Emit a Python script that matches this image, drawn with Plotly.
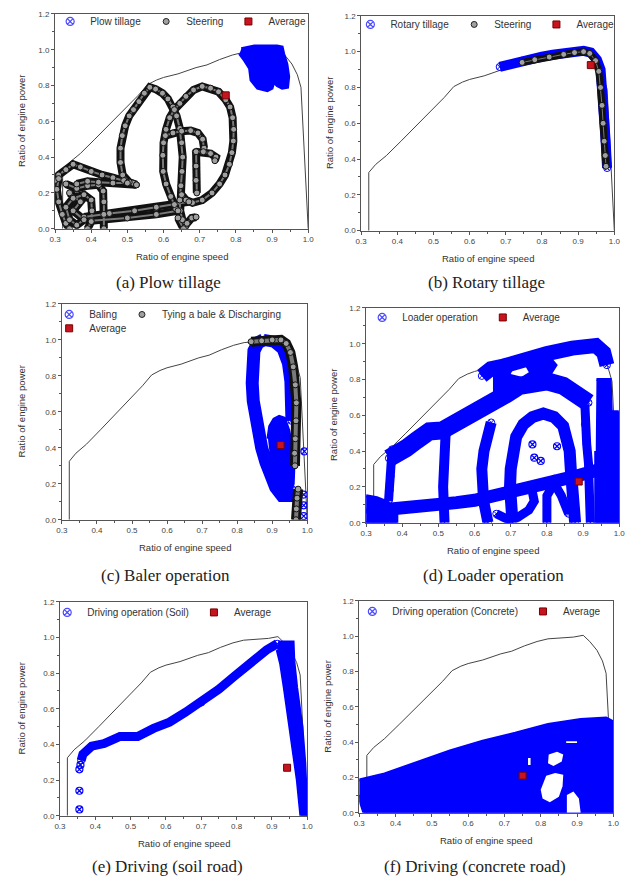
import plotly.graph_objects as go

FIG_W, FIG_H = 637, 888

# ---------------- axis ticks / texts ----------------
X_TICKS = [0.3, 0.4, 0.5, 0.6, 0.7, 0.8, 0.9, 1.0]
X_TICK_TEXT = ['0.3', '0.4', '0.5', '0.6', '0.7', '0.8', '0.9', '1.0']
X_MINOR = [0.35, 0.45, 0.55, 0.65, 0.75, 0.85, 0.95]
Y_TICKS = [0.0, 0.2, 0.4, 0.6, 0.8, 1.0, 1.2]
Y_TICK_TEXT = ['0.0', '0.2', '0.4', '0.6', '0.8', '1.0', '1.2']
Y_MINOR = [0.1, 0.3, 0.5, 0.7, 0.9, 1.1]
X_TITLE = 'Ratio of engine speed'
Y_TITLE = 'Ratio of engine power'
CAPTIONS = ['(a) Plow tillage', '(b) Rotary tillage', '(c) Baler operation',
            '(d) Loader operation', '(e) Driving (soil road)', '(f) Driving (concrete road)']

# ---------------- engine performance envelope (same in every panel) ----------------
ENV_X = [0.321, 0.321, 0.34, 0.37, 0.41, 0.45, 0.50, 0.53, 0.556, 0.58, 0.60, 0.64, 0.69, 0.72,
         0.755, 0.79, 0.82, 0.86, 0.89, 0.917, 0.935, 0.955, 0.97, 0.98, 0.985, 0.99, 1.0]
ENV_Y = [0.0, 0.325, 0.37, 0.42, 0.50, 0.58, 0.685, 0.745, 0.805, 0.83, 0.845, 0.865, 0.90, 0.915,
         0.945, 0.97, 0.985, 0.993, 0.995, 1.005, 0.97, 0.92, 0.86, 0.79, 0.60, 0.40, 0.0]

# ---------------- (a) plow tillage ----------------
A_PLOW_X = [0.815, 0.851, 0.914, 0.928, 0.932, 0.941, 0.946, 0.943, 0.928, 0.914, 0.905, 0.90,
            0.887, 0.86, 0.842, 0.838, 0.824, 0.81]
A_PLOW_Y = [1.005, 1.02, 1.02, 1.015, 0.978, 0.92, 0.85, 0.79, 0.785, 0.80, 0.82, 0.785,
            0.771, 0.785, 0.83, 0.895, 0.94, 0.978]
A_STEER_X = [
    [0.30, 0.31, 0.33, 0.35, 0.37, 0.40, 0.43, 0.46, 0.49, 0.515, 0.525, 0.505, 0.487, 0.481, 0.481,
     0.486, 0.494, 0.505, 0.517, 0.532, 0.547, 0.562, 0.578, 0.597, 0.612, 0.626, 0.636, 0.645, 0.65,
     0.653, 0.651, 0.648, 0.645, 0.646, 0.652, 0.66],
    [0.634, 0.62, 0.607, 0.599, 0.598, 0.600, 0.607, 0.617, 0.63, 0.645, 0.662, 0.683, 0.707, 0.73,
     0.752, 0.772, 0.784, 0.791, 0.794, 0.793, 0.789, 0.782, 0.77, 0.755, 0.734, 0.707, 0.68, 0.662, 0.65],
    [0.605, 0.626, 0.65, 0.675, 0.695, 0.708, 0.712],
    [0.688, 0.71, 0.73, 0.745, 0.742],
    [0.69, 0.69, 0.69, 0.692],
    [0.38, 0.45, 0.52, 0.58, 0.63, 0.67],
    [0.40, 0.50, 0.58, 0.64],
    [0.64, 0.655, 0.665, 0.678, 0.69],
    [0.31, 0.305, 0.31, 0.32, 0.33, 0.34],
    [0.33, 0.36, 0.39, 0.42, 0.433, 0.435, 0.435, 0.435],
    [0.34, 0.37, 0.35, 0.38, 0.36, 0.34, 0.33, 0.35, 0.38, 0.40, 0.402, 0.40, 0.39],
    [0.36, 0.39, 0.42, 0.46, 0.50, 0.525],
]
A_STEER_Y = [
    [0.27, 0.30, 0.33, 0.36, 0.345, 0.32, 0.30, 0.285, 0.27, 0.255, 0.245, 0.26, 0.30, 0.37, 0.45,
     0.52, 0.575, 0.63, 0.665, 0.71, 0.757, 0.79, 0.78, 0.757, 0.725, 0.68, 0.63, 0.56, 0.48,
     0.40, 0.32, 0.24, 0.16, 0.10, 0.05, 0.01],
    [0.11, 0.18, 0.25, 0.32, 0.41, 0.48, 0.555, 0.62, 0.665, 0.70, 0.739, 0.775, 0.795, 0.785,
     0.765, 0.72, 0.68, 0.62, 0.555, 0.49, 0.425, 0.36, 0.30, 0.25, 0.20, 0.16, 0.145, 0.16, 0.19],
    [0.52, 0.535, 0.545, 0.548, 0.535, 0.50, 0.45],
    [0.43, 0.43, 0.42, 0.40, 0.38],
    [0.43, 0.35, 0.27, 0.20],
    [0.065, 0.085, 0.10, 0.12, 0.135, 0.15],
    [0.045, 0.06, 0.08, 0.10],
    [0.06, 0.0, 0.03, 0.06, 0.065],
    [0.28, 0.22, 0.15, 0.08, 0.03, 0.0],
    [0.25, 0.225, 0.24, 0.245, 0.21, 0.15, 0.08, 0.0],
    [0.20, 0.15, 0.10, 0.05, 0.02, 0.05, 0.12, 0.17, 0.19, 0.16, 0.10, 0.04, 0.0],
    [0.25, 0.265, 0.26, 0.255, 0.255, 0.245],
]
A_AVG_X, A_AVG_Y = [0.772], [0.745]

# ---------------- (b) rotary tillage ----------------
B_ROT_X = [0.683, 0.70, 0.72, 0.745, 0.77, 0.80, 0.83, 0.86, 0.89, 0.915, 0.935, 0.952, 0.962,
           0.967, 0.97, 0.973, 0.976, 0.978, 0.98]
B_ROT_Y = [0.915, 0.925, 0.935, 0.95, 0.96, 0.972, 0.983, 0.993, 1.0, 1.005, 0.995, 0.955, 0.90,
           0.80, 0.70, 0.60, 0.50, 0.42, 0.35]
B_STEER_X = [[0.745, 0.78, 0.82, 0.86, 0.89, 0.915, 0.932, 0.948, 0.957, 0.962, 0.966, 0.969,
              0.972, 0.975, 0.977]]
B_STEER_Y = [[0.94, 0.955, 0.97, 0.985, 0.995, 1.0, 0.99, 0.95, 0.89, 0.80, 0.70, 0.60, 0.50,
              0.42, 0.36]]
B_AVG_X, B_AVG_Y = [0.935], [0.925]

# ---------------- (c) baler operation ----------------
C_BALE_X = [0.875, 0.86, 0.848, 0.843, 0.843, 0.846, 0.852, 0.86, 0.87, 0.882, 0.895, 0.91,
            0.928, 0.948, 0.957]
C_BALE_Y = [1.0, 0.985, 0.94, 0.86, 0.76, 0.66, 0.57, 0.48, 0.40, 0.32, 0.25, 0.18, 0.135,
            0.135, 0.17]
C_BALE2_X = [0.875, 0.905, 0.93, 0.945, 0.952, 0.955, 0.955]
C_BALE2_Y = [1.0, 0.99, 0.95, 0.87, 0.77, 0.66, 0.55]
C_BLOB_X = [0.888, 0.893, 0.905, 0.92, 0.935, 0.947, 0.957, 0.962, 0.96, 0.95, 0.93, 0.913,
            0.90, 0.892]
C_BLOB_Y = [0.45, 0.52, 0.56, 0.575, 0.565, 0.50, 0.40, 0.30, 0.20, 0.145, 0.14, 0.20, 0.30, 0.38]
C_SPECK_X = [0.99, 0.99, 0.99, 0.992]
C_SPECK_Y = [0.02, 0.08, 0.14, 0.38]
C_TIE_X = [[0.84, 0.87, 0.90, 0.925, 0.94, 0.952, 0.96, 0.966, 0.969, 0.968, 0.966, 0.964, 0.965],
           [0.968, 0.969, 0.971, 0.974]]
C_TIE_Y = [[0.99, 0.995, 1.0, 1.0, 0.98, 0.93, 0.85, 0.75, 0.65, 0.55, 0.45, 0.37, 0.30],
           [0.0, 0.06, 0.12, 0.17]]
C_AVG_X, C_AVG_Y = [0.924], [0.415]

# ---------------- (d) loader operation ----------------
D_DIAG_X = [0.31, 0.36, 0.40, 0.45, 0.50, 0.55, 0.60, 0.66, 0.72, 0.80, 0.88, 0.95, 1.0]
D_DIAG_Y = [0.065, 0.072, 0.08, 0.09, 0.10, 0.112, 0.125, 0.15, 0.175, 0.215, 0.26, 0.30, 0.32]
D_BLOB_X = [0.30, 0.33, 0.355, 0.375, 0.385, 0.385, 0.30]
D_BLOB_Y = [0.15, 0.14, 0.12, 0.09, 0.05, 0.0, 0.0]
D_RIDGE_X = [0.363, 0.38, 0.41, 0.44, 0.475, 0.51, 0.55, 0.585, 0.62, 0.655, 0.69, 0.725, 0.76,
             0.80, 0.845, 0.885, 0.915]
D_RIDGE_Y = [0.36, 0.39, 0.415, 0.46, 0.51, 0.515, 0.555, 0.59, 0.625, 0.665, 0.72, 0.765, 0.785,
             0.79, 0.765, 0.725, 0.67]
D_TOP_X = [0.62, 0.645, 0.68, 0.73, 0.80, 0.87, 0.935, 0.957, 0.966]
D_TOP_Y = [0.82, 0.86, 0.875, 0.91, 0.945, 0.975, 0.99, 0.95, 0.88]
D_UPPER_X = [0.655, 0.655, 0.72, 0.80, 0.825, 0.80, 0.75, 0.70]
D_UPPER_Y = [0.68, 0.86, 0.90, 0.94, 0.88, 0.80, 0.77, 0.72]
D_HOLE_X = [0.70, 0.73, 0.75, 0.74, 0.71]
D_HOLE_Y = [0.83, 0.815, 0.84, 0.875, 0.87]
D_ARCH_X = [0.705, 0.70, 0.698, 0.70, 0.705, 0.715, 0.735, 0.76, 0.79, 0.82, 0.845, 0.858, 0.863,
            0.866, 0.87, 0.875, 0.878]
D_ARCH_Y = [0.0, 0.1, 0.2, 0.3, 0.4, 0.48, 0.55, 0.59, 0.61, 0.59, 0.54, 0.47, 0.40, 0.30, 0.20,
            0.10, 0.0]
D_BANDE_X = [0.646, 0.635, 0.626, 0.62, 0.62, 0.625, 0.632, 0.637]
D_BANDE_Y = [0.56, 0.48, 0.40, 0.30, 0.20, 0.12, 0.05, 0.0]
D_BANDF_X = [0.52, 0.516, 0.513, 0.513, 0.515, 0.517]
D_BANDF_Y = [0.50, 0.40, 0.30, 0.20, 0.10, 0.0]
D_BANDG_X = [0.372, 0.37, 0.368, 0.365, 0.362]
D_BANDG_Y = [0.41, 0.34, 0.26, 0.18, 0.12]
D_BANDH_X = [0.905, 0.905, 0.91, 0.915, 0.918, 0.92]
D_BANDH_Y = [0.66, 0.55, 0.44, 0.33, 0.15, 0.0]
D_LOOP_X = [0.66, 0.69, 0.72, 0.75, 0.765, 0.76]
D_LOOP_Y = [0.05, 0.02, 0.03, 0.07, 0.12, 0.17]
D_LOOP2_X = [0.80, 0.80, 0.82, 0.84, 0.86]
D_LOOP2_Y = [0.0, 0.15, 0.22, 0.15, 0.05]
D_RIGHT_X = [0.937, 0.975, 0.978, 0.995, 1.0, 1.0, 0.935, 0.935]
D_RIGHT_Y = [0.80, 0.80, 0.62, 0.62, 0.55, 0.0, 0.0, 0.40]
D_DOTS_X = [0.76, 0.765, 0.783, 0.828]
D_DOTS_Y = [0.437, 0.363, 0.345, 0.427]
D_AVG_X, D_AVG_Y = [0.888], [0.23]

# ---------------- (e) driving, soil road ----------------
E_BAND_X = [0.36, 0.365, 0.39, 0.425, 0.47, 0.52, 0.565, 0.61, 0.655, 0.70, 0.75, 0.795, 0.84,
            0.885, 0.915]
E_BAND_Y = [0.31, 0.345, 0.39, 0.405, 0.445, 0.445, 0.49, 0.525, 0.58, 0.635, 0.71, 0.785, 0.86,
            0.93, 0.965]
E_DOTS_X = [0.355, 0.355, 0.355, 0.358]
E_DOTS_Y = [0.035, 0.14, 0.26, 0.285]
E_RIGHT_X = [0.918, 0.96, 0.962, 0.97, 0.985, 0.993, 1.0, 0.982, 0.972, 0.958, 0.945, 0.935,
             0.925, 0.915]
E_RIGHT_Y = [0.975, 0.975, 0.87, 0.72, 0.50, 0.30, 0.0, 0.0, 0.20, 0.40, 0.60, 0.72, 0.85, 0.93]
E_AVG_X, E_AVG_Y = [0.943], [0.269]

# ---------------- (f) driving, concrete road ----------------
F_AREA_X = [0.30, 0.37, 0.46, 0.55, 0.64, 0.73, 0.82, 0.91, 0.98, 0.995, 1.0, 1.0, 0.313, 0.305, 0.30]
F_AREA_Y = [0.185, 0.22, 0.285, 0.35, 0.405, 0.45, 0.50, 0.528, 0.537, 0.52, 0.40, 0.0, 0.0, 0.05, 0.10]
F_HOLES_X = [[0.822, 0.845, 0.862, 0.858, 0.835, 0.82],
             [0.815, 0.84, 0.862, 0.86, 0.85, 0.825, 0.805, 0.80],
             [0.765, 0.772, 0.772, 0.765],
             [0.872, 0.89, 0.905, 0.91, 0.872],
             [0.87, 0.90, 0.90, 0.87]]
F_HOLES_Y = [[0.33, 0.345, 0.33, 0.29, 0.265, 0.28],
             [0.21, 0.225, 0.215, 0.15, 0.09, 0.06, 0.08, 0.13],
             [0.31, 0.31, 0.27, 0.27],
             [0.10, 0.12, 0.08, 0.0, 0.0],
             [0.405, 0.405, 0.395, 0.395]]
F_AVG_X, F_AVG_Y = [0.75], [0.21]

# ---------------- legends ----------------
LEG_A = ['Plow tillage', 'Steering', 'Average']
LEG_B = ['Rotary tillage', 'Steering', 'Average']
LEG_C = ['Baling', 'Tying a bale & Discharging', 'Average']
LEG_D = ['Loader operation', 'Average']
LEG_E = ['Driving operation (Soil)', 'Average']
LEG_F = ['Driving operation (Concrete)', 'Average']

# ---------------- layout geometry (pixels: left, right, top, bottom) ----------------
BOX = {1: (50, 308, 10, 227), 2: (362, 620, 12, 229), 3: (57, 307, 303, 521),
       4: (367, 625, 307, 524), 5: (55, 307, 604, 820), 6: (360, 619, 603, 817)}
YTITLE_X = {1: 16, 2: 329, 3: 16, 4: 334, 5: 16, 6: 328}
CAP_POS = {1: (166, 281), 2: (490, 281), 3: (163, 577), 4: (497, 577), 5: (165, 871), 6: (478, 871)}

BLUE = '#0000ff'
LEG_BLUE = '#4a4aff'
GRAY = '#a0a0a0'
RED = '#c8141e'


def px_x(p):
    return p / FIG_W


def px_y(p):
    return 1 - p / FIG_H


def ax(n):
    return ('x', 'y') if n == 1 else ('x%d' % n, 'y%d' % n)


fig = go.Figure()


def add(n, **kw):
    xa, ya = ax(n)
    kw.setdefault('showlegend', False)
    kw.setdefault('hoverinfo', 'skip')
    fig.add_trace(go.Scatter(xaxis=xa, yaxis=ya, **kw))


def envelope(n):
    add(n, x=ENV_X, y=ENV_Y, mode='lines', line=dict(color='#444', width=1))


def blue_path(n, xs, ys, w):
    add(n, x=xs, y=ys, mode='lines+markers', line=dict(color=BLUE, width=w),
        marker=dict(symbol='circle-x-open', size=7, color=BLUE, line=dict(width=1)))


def blue_area(n, xs, ys):
    add(n, x=xs, y=ys, mode='lines', fill='toself', fillcolor=BLUE,
        line=dict(color=BLUE, width=3))


def blue_dots(n, xs, ys):
    add(n, x=xs, y=ys, mode='markers',
        marker=dict(symbol='circle-x-open', size=7, color=BLUE, line=dict(width=1.2)))


def white_area(n, xs, ys):
    add(n, x=xs, y=ys, mode='lines', fill='toself', fillcolor='white', line=dict(width=0))


def join(strokes):
    out = []
    for i, s in enumerate(strokes):
        if i:
            out.append(None)
        out.extend(s)
    return out


def steer(n, sx, sy, w):
    xs, ys = join(sx), join(sy)
    add(n, x=xs, y=ys, mode='lines', line=dict(color='#111', width=w))
    add(n, x=xs, y=ys, mode='lines', line=dict(color='#7a7a7a', width=max(w - 6, 1)))
    add(n, x=xs, y=ys, mode='markers',
        marker=dict(symbol='circle', size=6, color=GRAY, line=dict(color='#111', width=1)))


def average(n, xs, ys):
    add(n, x=xs, y=ys, mode='markers',
        marker=dict(symbol='square', size=7, color=RED, line=dict(color='#700', width=1)))


def legend_entries(n, names, kinds, leg):
    xa, ya = ax(n)
    for name, kind in zip(names, kinds):
        if kind == 'blue':
            mk = dict(symbol='circle-x-open', size=8, color=LEG_BLUE, line=dict(width=1.2))
        elif kind == 'gray':
            mk = dict(symbol='circle', size=6, color=GRAY, line=dict(color='#222', width=1))
        else:
            mk = dict(symbol='square', size=7, color=RED, line=dict(color='#700', width=1))
        fig.add_trace(go.Scatter(x=[None], y=[None], mode='markers', marker=mk, name=name,
                                 legend=leg, xaxis=xa, yaxis=ya, showlegend=True))


# (a)
envelope(1)
blue_area(1, A_PLOW_X, A_PLOW_Y)
steer(1, A_STEER_X, A_STEER_Y, 8)
average(1, A_AVG_X, A_AVG_Y)
legend_entries(1, LEG_A, ['blue', 'gray', 'red'], 'legend')

# (b)
envelope(2)
blue_path(2, B_ROT_X, B_ROT_Y, 10)
steer(2, B_STEER_X, B_STEER_Y, 7)
average(2, B_AVG_X, B_AVG_Y)
legend_entries(2, LEG_B, ['blue', 'gray', 'red'], 'legend2')

# (c)
envelope(3)
blue_path(3, C_BALE_X, C_BALE_Y, 13)
blue_path(3, C_BALE2_X, C_BALE2_Y, 12)
blue_area(3, C_BLOB_X, C_BLOB_Y)
blue_dots(3, C_SPECK_X, C_SPECK_Y)
steer(3, C_TIE_X, C_TIE_Y, 10)
average(3, C_AVG_X, C_AVG_Y)
legend_entries(3, LEG_C[:2], ['blue', 'gray'], 'legend3')
legend_entries(3, LEG_C[2:], ['red'], 'legend4')

# (d)
envelope(4)
blue_area(4, D_BLOB_X, D_BLOB_Y)
blue_area(4, D_UPPER_X, D_UPPER_Y)
white_area(4, D_HOLE_X, D_HOLE_Y)
blue_path(4, D_DIAG_X, D_DIAG_Y, 13)
blue_path(4, D_RIDGE_X, D_RIDGE_Y, 18)
blue_path(4, D_TOP_X, D_TOP_Y, 15)
blue_path(4, D_ARCH_X, D_ARCH_Y, 12)
blue_path(4, D_BANDE_X, D_BANDE_Y, 11)
blue_path(4, D_BANDF_X, D_BANDF_Y, 10)
blue_path(4, D_BANDG_X, D_BANDG_Y, 9)
blue_path(4, D_BANDH_X, D_BANDH_Y, 9)
blue_path(4, D_LOOP_X, D_LOOP_Y, 9)
blue_path(4, D_LOOP2_X, D_LOOP2_Y, 9)
blue_area(4, D_RIGHT_X, D_RIGHT_Y)
blue_dots(4, D_DOTS_X, D_DOTS_Y)
average(4, D_AVG_X, D_AVG_Y)
legend_entries(4, LEG_D, ['blue', 'red'], 'legend5')

# (e)
envelope(5)
blue_path(5, E_BAND_X, E_BAND_Y, 9)
blue_dots(5, E_DOTS_X, E_DOTS_Y)
blue_area(5, E_RIGHT_X, E_RIGHT_Y)
average(5, E_AVG_X, E_AVG_Y)
legend_entries(5, LEG_E, ['blue', 'red'], 'legend6')

# (f)
envelope(6)
blue_area(6, F_AREA_X, F_AREA_Y)
for hx, hy in zip(F_HOLES_X, F_HOLES_Y):
    white_area(6, hx, hy)
average(6, F_AVG_X, F_AVG_Y)
legend_entries(6, LEG_F, ['blue', 'red'], 'legend7')

# ---------------- layout ----------------
tick_font = dict(family='Liberation Sans, Arial, sans-serif', size=8, color='#444')
layout = dict(width=FIG_W, height=FIG_H, margin=dict(l=0, r=0, t=0, b=0),
              paper_bgcolor='white', plot_bgcolor='white', showlegend=True)
annotations = []
for n, (l, r, t, b) in BOX.items():
    xa = 'xaxis' if n == 1 else 'xaxis%d' % n
    ya = 'yaxis' if n == 1 else 'yaxis%d' % n
    xid, yid = ax(n)
    common = dict(showgrid=False, zeroline=False, showline=True, linecolor='#555', linewidth=1,
                  mirror=True, ticks='outside', ticklen=3, tickwidth=1, tickcolor='#555',
                  tickfont=tick_font, tickmode='array', fixedrange=True)
    layout[xa] = dict(common, domain=[px_x(l), px_x(r)], anchor=yid, range=[0.3, 1.0],
                      tickvals=X_TICKS, ticktext=X_TICK_TEXT,
                      minor=dict(tickmode='array', tickvals=X_MINOR, ticks='outside', ticklen=2,
                                 tickcolor='#555'))
    layout[ya] = dict(common, domain=[px_y(b), px_y(t)], anchor=xid, range=[0.0, 1.2],
                      tickvals=Y_TICKS, ticktext=Y_TICK_TEXT,
                      minor=dict(tickmode='array', tickvals=Y_MINOR, ticks='outside', ticklen=2,
                                 tickcolor='#555'))
    title_font = dict(family='Liberation Sans, Arial, sans-serif', size=9.5, color='#333')
    annotations.append(dict(text=X_TITLE, xref='paper', yref='paper', x=px_x((l + r) / 2),
                            y=px_y(b + 28), xanchor='center', yanchor='middle', showarrow=False,
                            font=title_font))
    annotations.append(dict(text=Y_TITLE, xref='paper', yref='paper', x=px_x(YTITLE_X[n]),
                            y=px_y((t + b) / 2), xanchor='center', yanchor='middle',
                            textangle=-90, showarrow=False, font=title_font))
    cx, cy = CAP_POS[n]
    annotations.append(dict(text=CAPTIONS[n - 1], xref='paper', yref='paper', x=px_x(cx),
                            y=px_y(cy), xanchor='center', yanchor='middle', showarrow=False,
                            font=dict(family='Liberation Serif, Times New Roman, serif', size=17,
                                      color='#222')))
layout['annotations'] = annotations

leg_font = dict(family='Liberation Sans, Arial, sans-serif', size=10, color='#333')
LEG_POS = {'legend': (67, 17), 'legend2': (373, 20), 'legend3': (66, 313), 'legend4': (66, 327),
           'legend5': (385, 316), 'legend6': (64, 614), 'legend7': (375, 613)}
for key, (sx, sy) in LEG_POS.items():
    layout[key] = dict(orientation='h', x=px_x(sx - 22), y=px_y(sy - 14), xanchor='left',
                       yanchor='top', bgcolor='rgba(0,0,0,0)', borderwidth=0, font=leg_font,
                       itemwidth=30, tracegroupgap=0, traceorder='normal')

fig.update_layout(**layout)
fig.write_html('out.html')
